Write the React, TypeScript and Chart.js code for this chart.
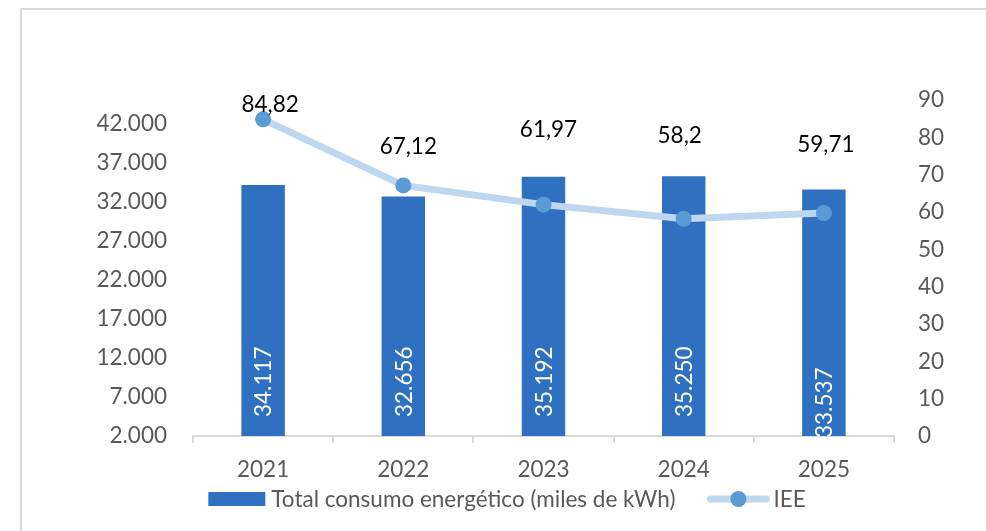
import React, { useEffect, useRef } from "react";
import { Chart, registerables } from "chart.js";

Chart.register(...registerables);

const categories = ["2021", "2022", "2023", "2024", "2025"];
const consumo = [34117, 32656, 35192, 35250, 33537];
const iee = [84.82, 67.12, 61.97, 58.2, 59.71];
const leftTicks = [2000, 7000, 12000, 17000, 22000, 27000, 32000, 37000, 42000];

const barLabel = "Total consumo energético (miles de kWh)";
const lineLabel = "IEE";

// label styling offsets (pixels), matching the manual label placement in the original
const lineLabelDy = [-15, -39, -75, -83, -68];
const lineLabelDx = [7, 5, 5, -4, 2];
const barLabelGap = [19, 19, 19, 19, -2];

const FONT = "Lato, 'Open Sans', sans-serif";
const FS = 22.5;
const BAR_COLOR = "#2F70C1";
const LINE_COLOR = "#BDD7EE";
const POINT_COLOR = "#5B9BD5";
const TEXT_COLOR = "#595959";
const AXIS_COLOR = "#D9D9D9";

const fmtThousands = (v: number) =>
  Math.round(v).toString().replace(/\B(?=(\d{3})+(?!\d))/g, ".");
const fmtDecimal = (v: number) => v.toString().replace(".", ",");

const labelsPlugin = {
  id: "customLabels",
  afterDatasetsDraw(chart: any) {
    const ctx = chart.ctx;
    const bottom = chart.chartArea.bottom;
    const barMeta = chart.getDatasetMeta(0);
    barMeta.data.forEach((bar: any, i: number) => {
      const props = bar.getProps(["x", "y", "base", "width"], true);
      const base = Math.min(props.base, bottom);
      ctx.save();
      ctx.beginPath();
      ctx.rect(props.x - props.width / 2, props.y, props.width, base - props.y);
      ctx.clip();
      ctx.translate(props.x, base - barLabelGap[i]);
      ctx.rotate(-Math.PI / 2);
      ctx.fillStyle = "#FFFFFF";
      ctx.font = `${FS}px ${FONT}`;
      ctx.textAlign = "left";
      ctx.textBaseline = "middle";
      ctx.fillText(fmtThousands(consumo[i]), 0, 1);
      ctx.restore();
    });
    const lineMeta = chart.getDatasetMeta(1);
    lineMeta.data.forEach((pt: any, i: number) => {
      const p = pt.getProps(["x", "y"], true);
      ctx.save();
      ctx.fillStyle = "#000000";
      ctx.font = `${FS}px ${FONT}`;
      ctx.textAlign = "center";
      ctx.textBaseline = "middle";
      ctx.fillText(fmtDecimal(iee[i]), p.x + lineLabelDx[i], p.y + lineLabelDy[i]);
      ctx.restore();
    });
  },
  afterDraw(chart: any) {
    const ctx = chart.ctx;
    ctx.save();
    ctx.font = `${FS}px ${FONT}`;
    const w1 = ctx.measureText(barLabel).width;
    const w2 = ctx.measureText(lineLabel).width;
    const boxW = 57;
    const lineW = 62;
    const total = boxW + 6 + w1 + 32 + lineW + 4 + w2;
    const cx = chart.width / 2 + 14;
    let x = cx - total / 2;
    const y = 499;
    ctx.fillStyle = BAR_COLOR;
    ctx.fillRect(x, y - 7, boxW, 14);
    x += boxW + 6;
    ctx.fillStyle = TEXT_COLOR;
    ctx.textAlign = "left";
    ctx.textBaseline = "middle";
    ctx.fillText(barLabel, x, y + 1);
    x += w1 + 32;
    ctx.strokeStyle = LINE_COLOR;
    ctx.lineWidth = 7;
    ctx.lineCap = "round";
    ctx.beginPath();
    ctx.moveTo(x + 3, y);
    ctx.lineTo(x + lineW - 3, y);
    ctx.stroke();
    ctx.fillStyle = POINT_COLOR;
    ctx.beginPath();
    ctx.arc(x + lineW / 2, y, 8, 0, Math.PI * 2);
    ctx.fill();
    x += lineW + 4;
    ctx.fillStyle = TEXT_COLOR;
    ctx.fillText(lineLabel, x, y + 1);
    ctx.restore();
  },
};

export default function App() {
  const canvasRef = useRef<HTMLCanvasElement | null>(null);

  useEffect(() => {
    document.body.style.margin = "0";
    const canvas = canvasRef.current;
    if (!canvas) return;
    const chart = new Chart(canvas, {
      type: "bar",
      data: {
        labels: categories,
        datasets: [
          {
            type: "bar",
            label: barLabel,
            data: consumo,
            backgroundColor: BAR_COLOR,
            yAxisID: "y",
            barPercentage: 0.31,
            categoryPercentage: 1,
            order: 2,
          },
          {
            type: "line",
            label: lineLabel,
            data: iee,
            borderColor: LINE_COLOR,
            borderWidth: 7,
            backgroundColor: POINT_COLOR,
            pointBackgroundColor: POINT_COLOR,
            pointBorderColor: POINT_COLOR,
            pointBorderWidth: 0,
            pointRadius: 8,
            yAxisID: "y1",
            tension: 0,
            borderCapStyle: "round",
            order: 1,
          },
        ],
      } as any,
      options: {
        responsive: false,
        animation: false,
        devicePixelRatio: 1,
        layout: { padding: { top: 100, left: 0, right: 0, bottom: 0 } },
        plugins: {
          legend: { display: false },
          tooltip: { enabled: false },
        },
        scales: {
          x: {
            grid: {
              display: true,
              drawOnChartArea: false,
              drawTicks: true,
              tickLength: 7,
              color: AXIS_COLOR,
              lineWidth: 2,
              offset: true,
            },
            border: { display: true, color: AXIS_COLOR, width: 2 },
            ticks: { font: { family: FONT, size: FS }, color: TEXT_COLOR, padding: 13 },
            afterFit(scale: any) {
              scale.height = 95;
            },
          },
          y: {
            position: "left",
            min: 2000,
            max: 45000,
            grid: { display: false, drawTicks: false },
            border: { display: false },
            afterBuildTicks(scale: any) {
              scale.ticks = leftTicks.map((v) => ({ value: v }));
            },
            ticks: {
              font: { family: FONT, size: FS },
              color: TEXT_COLOR,
              padding: 26,
              callback: (v: any) => fmtThousands(Number(v)),
            },
            afterFit(scale: any) {
              scale.width = 193;
            },
          },
          y1: {
            position: "right",
            min: 0,
            max: 90,
            grid: { display: false, drawTicks: false },
            border: { display: false },
            ticks: {
              stepSize: 10,
              font: { family: FONT, size: FS },
              color: TEXT_COLOR,
              padding: 24,
            },
            afterFit(scale: any) {
              scale.width = 92;
            },
          },
        },
      } as any,
      plugins: [labelsPlugin],
    });
    return () => chart.destroy();
  }, []);

  return (
    <div style={{ position: "fixed", left: 0, top: 0, width: 986, height: 531, background: "#fff", overflow: "hidden" }}>
      <div
        style={{
          position: "absolute",
          left: 20,
          top: 8,
          width: 1100,
          height: 700,
          borderLeft: "2px solid #D9D9D9",
          borderTop: "2px solid #D9D9D9",
        }}
      />
      <canvas
        ref={canvasRef}
        width={986}
        height={531}
        style={{ position: "absolute", left: 0, top: 0, width: 986, height: 531 }}
      />
    </div>
  );
}
